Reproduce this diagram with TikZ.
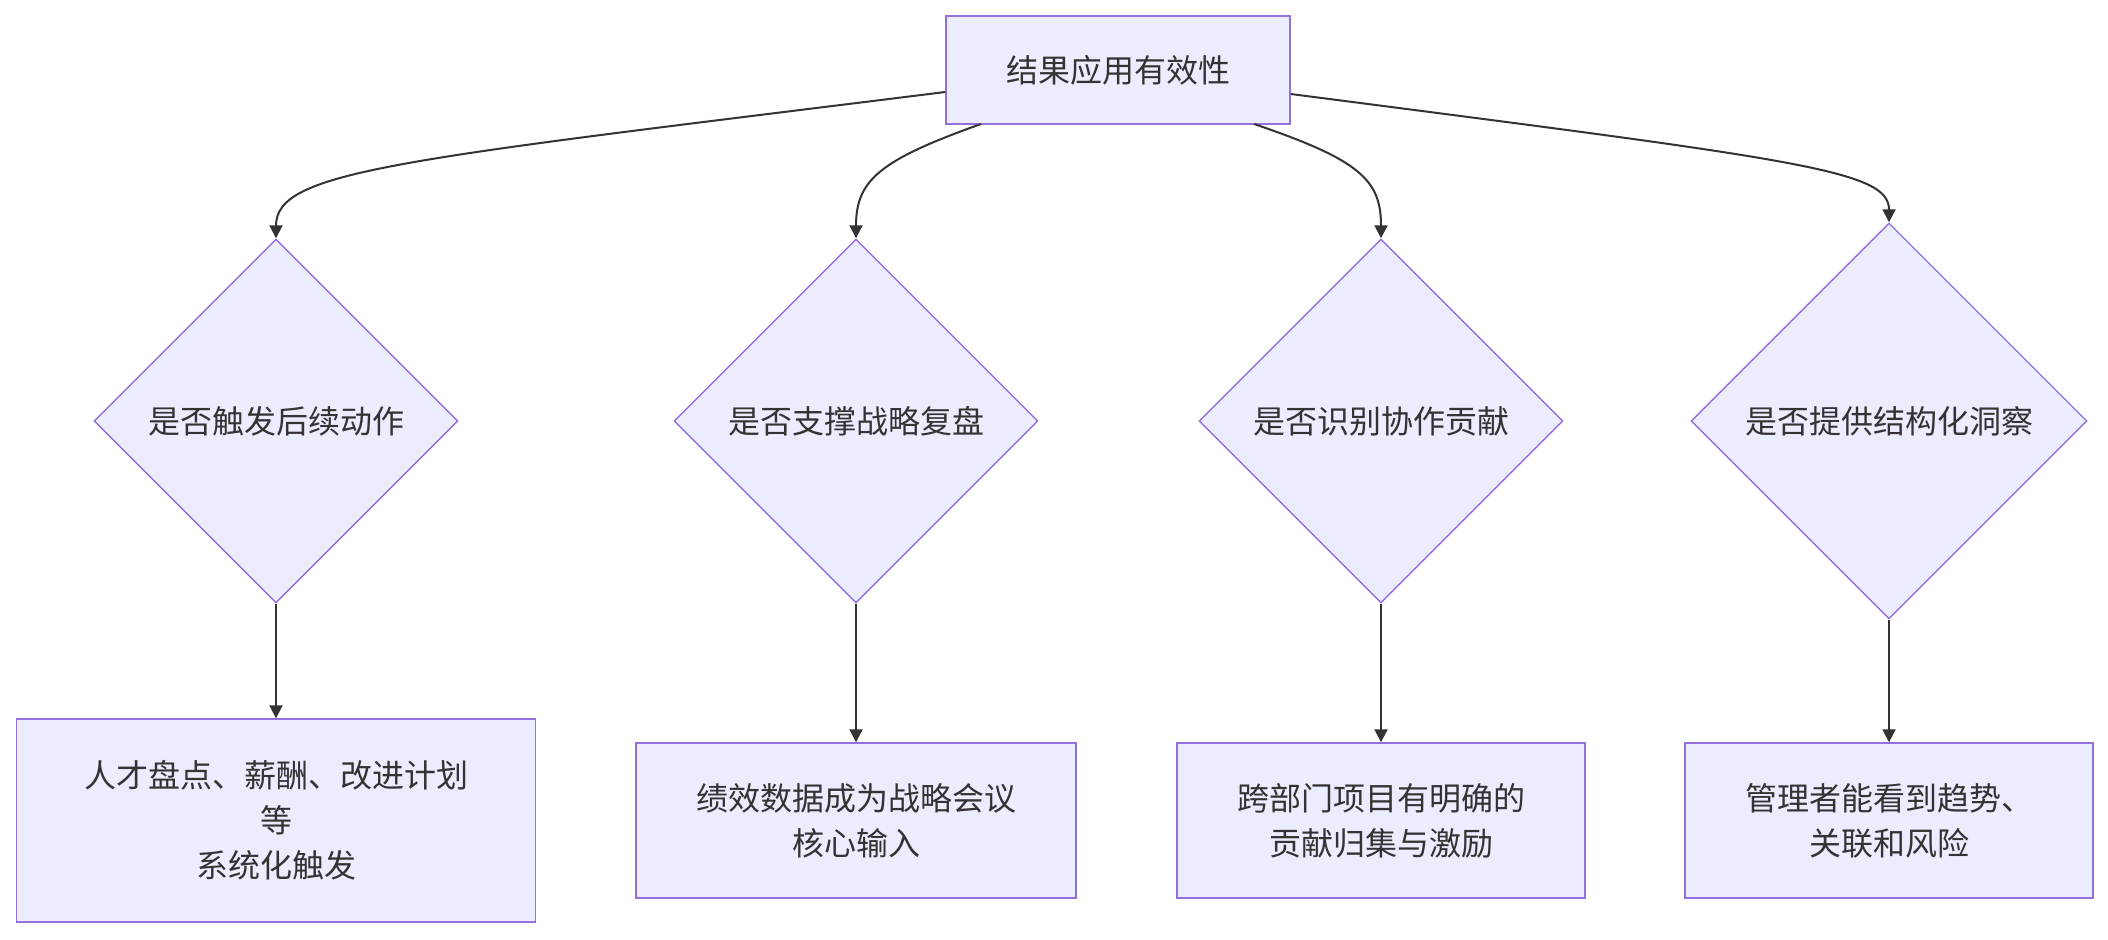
\documentclass[tikz,border=0pt]{standalone}
\usepackage{fontspec}
\newfontfamily\cjk{Noto Sans CJK SC}
\usetikzlibrary{shapes.geometric,arrows.meta}
\definecolor{nfill}{HTML}{ECECFF}
\definecolor{nline}{HTML}{9370DB}
\definecolor{ink}{HTML}{333333}
\tikzset{
  box/.style={draw=nline,fill=nfill,line width=0.7pt,rectangle,inner sep=0pt,align=center,text=ink,font=\cjk\fontsize{16pt}{22.5pt}\selectfont},
  dia/.style={draw=nline,fill=nfill,line width=0.7pt,diamond,aspect=1,inner sep=0pt,align=center,text=ink,font=\cjk\fontsize{16pt}{22.5pt}\selectfont},
  link/.style={draw=ink,line width=1pt,-{Triangle[length=6.5pt,width=6.5pt]}}
}
\begin{document}
\begin{tikzpicture}[x=0.5pt,y=-0.5pt]
\useasboundingbox (0,0) rectangle (2108,940);
\node[box,minimum width=172pt,minimum height=54pt] (top) at (1118,70) {结果应用有效性};
\node[dia,minimum width=182pt,minimum height=182pt] (d1) at (276,421) {是否触发后续动作};
\node[dia,minimum width=182pt,minimum height=182pt] (d2) at (856,421) {是否支撑战略复盘};
\node[dia,minimum width=182pt,minimum height=182pt] (d3) at (1381,421) {是否识别协作贡献};
\node[dia,minimum width=198pt,minimum height=198pt] (d4) at (1889,421) {是否提供结构化洞察};
\node[box,minimum width=259.5pt,minimum height=101.5pt] (b1) at (276,820.5) {人才盘点、薪酬、改进计划\\等\\系统化触发};
\node[box,minimum width=220pt,minimum height=77.5pt] (b2) at (856,820.5) {绩效数据成为战略会议\\核心输入};
\node[box,minimum width=204pt,minimum height=77.5pt] (b3) at (1381,820.5) {跨部门项目有明确的\\贡献归集与激励};
\node[box,minimum width=204pt,minimum height=77.5pt] (b4) at (1889,820.5) {管理者能看到趋势、\\关联和风险};
\draw[link] (top.west |- 0,92) .. controls (400,160) and (276,170) .. (d1.north);
\draw[link] (981,124) .. controls (880,160) and (856,180) .. (d2.north);
\draw[link] (1254,124) .. controls (1360,160) and (1381,180) .. (d3.north);
\draw[link] (top.east |- 0,94) .. controls (1800,160) and (1889,170) .. (d4.north);
\draw[link] (d1.south) -- (b1.north);
\draw[link] (d2.south) -- (b2.north);
\draw[link] (d3.south) -- (b3.north);
\draw[link] (d4.south) -- (b4.north);
\end{tikzpicture}
\end{document}
